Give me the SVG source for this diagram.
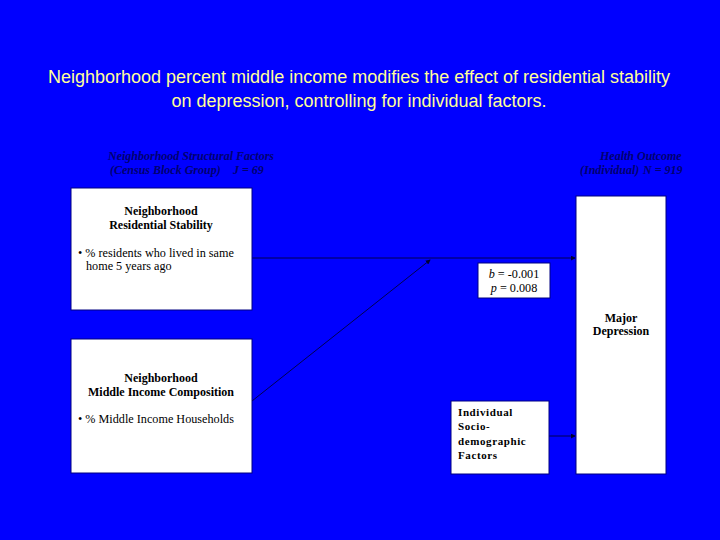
<svg xmlns="http://www.w3.org/2000/svg" width="720" height="540" viewBox="0 0 720 540">
<defs>
<style>
.title{font-family:"Liberation Sans",Arial,sans-serif;font-size:18px;fill:#FFFF99;text-anchor:middle}
.hdr{font-family:"Liberation Serif","Times New Roman",serif;font-size:12px;font-weight:bold;font-style:italic;fill:#000070}
.box{fill:#FFFFFF;stroke:#000080;stroke-width:1}
.bt{font-family:"Liberation Serif","Times New Roman",serif;font-size:12px;font-weight:bold;fill:#000000;text-anchor:middle}
.tx{font-family:"Liberation Serif","Times New Roman",serif;font-size:12.2px;fill:#000000}
.lb{font-family:"Liberation Serif","Times New Roman",serif;font-size:11px;font-weight:bold;fill:#000000;letter-spacing:0.6px}
.conn{stroke:#000050;stroke-width:1;fill:none;marker-end:url(#arr)}
</style>
<marker id="arr" viewBox="0 0 6 6" refX="5" refY="3" markerWidth="5" markerHeight="5" orient="auto" markerUnits="userSpaceOnUse">
<path d="M0,0 L6,3 L0,6 z" fill="#000030"/>
</marker>
</defs>
<rect x="0" y="0" width="720" height="540" fill="#0000FF"/>
<g id="title">
<text class="title" x="359" y="83">Neighborhood percent middle income modifies the effect of residential stability</text>
<text class="title" x="359" y="107">on depression, controlling for individual factors.</text>
</g>
<g id="header-left">
<text class="hdr" x="108" y="160">Neighborhood Structural Factors</text>
<text class="hdr" x="110" y="174">(Census Block Group)<tspan x="233">J = 69</tspan></text>
</g>
<g id="header-right">
<text class="hdr" x="600" y="160">Health Outcome</text>
<text class="hdr" x="580" y="174">(Individual)<tspan x="643">N = 919</tspan></text>
</g>
<g id="connectors">
<line class="conn" x1="252" y1="258" x2="575" y2="258"/>
<line class="conn" x1="252" y1="401" x2="430" y2="260"/>
<line class="conn" x1="549" y1="436" x2="575" y2="436"/>
</g>
<g id="stability">
<rect class="box" x="71" y="188" width="181" height="122"/>
<text class="bt" x="161" y="215">Neighborhood</text>
<text class="bt" x="161" y="229">Residential Stability</text>
<text class="tx" x="78" y="257">• % residents who lived in same</text>
<text class="tx" x="86" y="270">home 5 years ago</text>
</g>
<g id="middle-income">
<rect class="box" x="71" y="339" width="181" height="134"/>
<text class="bt" x="161" y="382">Neighborhood</text>
<text class="bt" x="161" y="396">Middle Income Composition</text>
<text class="tx" x="78" y="423">• % Middle Income Households</text>
</g>
<g id="coef">
<rect class="box" x="478" y="263" width="72" height="35"/>
<text class="tx" x="514" y="278" text-anchor="middle"><tspan font-style="italic">b</tspan> = -0.001</text>
<text class="tx" x="514" y="292" text-anchor="middle"><tspan font-style="italic">p</tspan> = 0.008</text>
</g>
<g id="individual">
<rect class="box" x="451" y="401" width="98" height="73"/>
<text class="lb" x="458" y="416">Individual</text>
<text class="lb" x="458" y="430">Socio-</text>
<text class="lb" x="458" y="445">demographic</text>
<text class="lb" x="458" y="459">Factors</text>
</g>
<g id="depression">
<rect class="box" x="576" y="196" width="90" height="278"/>
<text class="bt" x="621" y="322">Major</text>
<text class="bt" x="621" y="335">Depression</text>
</g>
</svg>
